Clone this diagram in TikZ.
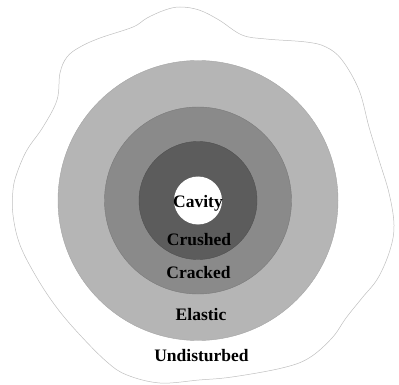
\documentclass[tikz,border=0pt]{standalone}
\usepackage{fontspec}
\setmainfont{Liberation Serif}
\begin{document}
\begin{tikzpicture}[x=1pt,y=-1pt,
  zone/.style={circle,inner sep=0pt,line width=0.4pt},
  lbl/.style={font=\fontsize{17.5}{20}\selectfont\bfseries,anchor=base,inner sep=0pt,text=black}]
\useasboundingbox (0,0) rectangle (399,385);
% wavy outer boundary
\draw[line width=0.5pt,color=black!25] plot[smooth cycle,tension=0.6] coordinates {
 (147,18) (165,10) (180,7) (199,10) (219,20) (242,35) (266,39) (306,42) (326,47)
 (342,60) (359,90) (369,127) (379,160) (389,193) (394,225) (390,250) (378,278)
 (362,298) (346,318) (332,338) (309,358) (282,368) (232,377) (199,380) (160,383)
 (127,375) (107,362) (80,335) (57,308) (37,278) (20,245) (13,215) (13,190)
 (17,173) (27,150) (43,127) (57,100) (60,73) (67,57) (80,47) (100,38) (133,27)};
\coordinate (c) at (198,200.5);
\node[zone,minimum size=280pt,fill={rgb,255:red,181;green,181;blue,181},draw={rgb,255:red,165;green,165;blue,165}] (elastic) at (c) {};
\node[zone,minimum size=187pt,fill={rgb,255:red,138;green,138;blue,138},draw={rgb,255:red,122;green,122;blue,122}] (cracked) at (c) {};
\node[zone,minimum size=118pt,fill={rgb,255:red,92;green,92;blue,92},draw={rgb,255:red,80;green,80;blue,80}] (crushed) at (c) {};
\node[zone,minimum size=48pt,fill=white] (cavity) at (c) {};
\node[lbl] (tcav) at (198,207) {Cavity};
\node[lbl] (tcru) at (199,245) {Crushed};
\node[lbl] (tcra) at (198.5,278.5) {Cracked};
\node[lbl] (tela) at (201,320) {Elastic};
\node[lbl] (tund) at (201.5,361.5) {Undisturbed};
\end{tikzpicture}
\end{document}
